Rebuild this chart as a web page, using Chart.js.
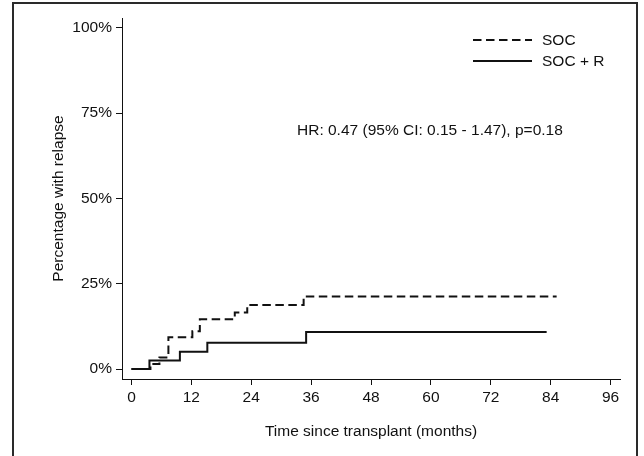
<!DOCTYPE html>
<html>
<head>
<meta charset="utf-8">
<script src="https://cdn.jsdelivr.net/npm/chart.js@4"></script>
<style>
  html, body { margin: 0; padding: 0; background: #fff; }
  #wrap { width: 644px; height: 456px; position: relative; }
</style>
</head>
<body>
<div id="wrap"><canvas id="c" width="644" height="456"></canvas></div>
<script>
// ---- data ----
const socTimes   = [0, 3.8, 5.6, 7.4, 12.2, 13.7, 20.7, 23.2, 34.5, 85.2];
const socPct     = [0, 1.5, 3.4, 9.3, 11.1, 14.6, 16.6, 18.8, 21.3, 21.3];
const socRTimes  = [0, 3.6, 9.7, 15.2, 35.0, 83.2];
const socRPct    = [0, 2.5, 5.1, 7.7, 10.9, 10.9];
const xTickValues = [0, 12, 24, 36, 48, 60, 72, 84, 96];
const yTickValues = [0, 25, 50, 75, 100];
const seriesLabels = ['SOC', 'SOC + R'];
const annotationText = 'HR: 0.47 (95% CI: 0.15 - 1.47), p=0.18';
const xTitle = 'Time since transplant (months)';
const yTitle = 'Percentage with relapse';

const FONT = 'Liberation Sans, Arial, sans-serif';
const FS = 15.5;
const DASH = [8.5, 4.5];

const toPoints = (xs, ys) => xs.map((x, i) => ({ x: x, y: ys[i] }));

const framePlugin = {
  id: 'frame',
  beforeDraw(chart) {
    const ctx = chart.ctx;
    ctx.save();
    ctx.fillStyle = '#fff';
    ctx.fillRect(0, 0, chart.width, chart.height);
    ctx.strokeStyle = '#2a2a2a';
    ctx.lineWidth = 2;
    ctx.strokeRect(13, 3, 624, 470);
    ctx.restore();
  },
  afterDraw(chart) {
    const ctx = chart.ctx;
    ctx.save();
    ctx.font = FS + 'px ' + FONT;
    ctx.fillStyle = '#111';
    ctx.textBaseline = 'middle';
    ctx.textAlign = 'left';
    // legend
    const rows = [{ y: 40, dash: DASH }, { y: 61, dash: [] }];
    rows.forEach((r, i) => {
      ctx.strokeStyle = '#111';
      ctx.lineWidth = 2;
      ctx.setLineDash(r.dash);
      ctx.beginPath();
      ctx.moveTo(473, r.y);
      ctx.lineTo(532, r.y);
      ctx.stroke();
      ctx.setLineDash([]);
      ctx.fillText(seriesLabels[i], 542, r.y + 1);
    });
    // annotation
    ctx.fillText(annotationText, 297, 131);
    ctx.restore();
  }
};

new Chart(document.getElementById('c'), {
  type: 'line',
  data: {
    datasets: [
      {
        label: seriesLabels[0],
        data: toPoints(socTimes, socPct),
        stepped: 'before',
        borderColor: '#111',
        borderWidth: 2,
        borderDash: DASH,
        pointRadius: 0,
        fill: false
      },
      {
        label: seriesLabels[1],
        data: toPoints(socRTimes, socRPct),
        stepped: 'before',
        borderColor: '#111',
        borderWidth: 2,
        pointRadius: 0,
        fill: false
      }
    ]
  },
  options: {
    responsive: false,
    animation: false,
    events: [],
    layout: { padding: { top: 18, right: 24, left: 0, bottom: 0 } },
    plugins: { legend: { display: false }, tooltip: { enabled: false } },
    scales: {
      x: {
        type: 'linear',
        min: -1.9,
        max: 97.9,
        afterBuildTicks: s => { s.ticks = xTickValues.map(v => ({ value: v })); },
        afterFit: s => { s.height = 77; },
        grid: { drawOnChartArea: false, drawTicks: true, tickLength: 6, tickColor: '#111', tickWidth: 1 },
        border: { display: true, color: '#111', width: 1 },
        ticks: { color: '#111', font: { family: FONT, size: FS }, padding: 3, maxRotation: 0 },
        title: { display: true, text: xTitle, color: '#111', font: { family: FONT, size: FS }, padding: { top: 0, bottom: 15 } }
      },
      y: {
        type: 'linear',
        min: -2.9,
        max: 102.9,
        afterBuildTicks: s => { s.ticks = yTickValues.map(v => ({ value: v })); },
        afterFit: s => { s.width = 122; },
        grid: { drawOnChartArea: false, drawTicks: true, tickLength: 6, tickColor: '#111', tickWidth: 1 },
        border: { display: true, color: '#111', width: 1 },
        ticks: { color: '#111', font: { family: FONT, size: FS }, padding: 4, callback: v => v + '%' },
        title: { display: true, text: yTitle, color: '#111', font: { family: FONT, size: FS }, padding: { top: 49, bottom: 0 } }
      }
    }
  },
  plugins: [framePlugin]
});
</script>
</body>
</html>
